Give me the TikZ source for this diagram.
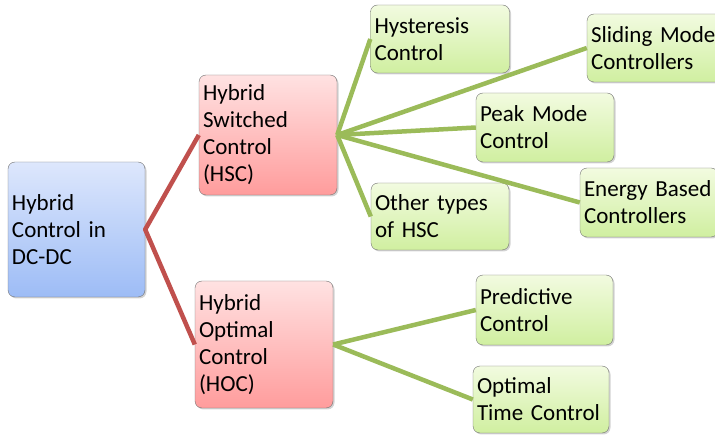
\documentclass[tikz,border=0pt]{standalone}
\usepackage{fontspec}
\setmainfont{Carlito}
\usetikzlibrary{shadows}
\definecolor{rootTop}{HTML}{DDE7FC}
\definecolor{rootBot}{HTML}{9DBCF6}
\definecolor{midTop}{HTML}{FFE2E2}
\definecolor{midBot}{HTML}{FF9C9C}
\definecolor{leafTop}{HTML}{F2FBE0}
\definecolor{leafBot}{HTML}{D0EFA0}
\definecolor{redline}{HTML}{C0504D}
\definecolor{greenline}{HTML}{9BBB59}
\newcommand{\boxfont}{\fontsize{23}{27}\selectfont\fontdimen2\font=3.5pt\relax}

\begin{document}
\begin{tikzpicture}[
x=1pt,y=-1pt,
box/.style={draw=black!55,rounded corners=7pt,align=left,inner sep=4pt,
  font=\boxfont,drop shadow={shadow xshift=1.5pt,shadow yshift=-1.5pt,opacity=0.35}},
rootbox/.style={box,top color=rootTop,bottom color=rootBot},
midbox/.style={box,top color=midTop,bottom color=midBot},
leafbox/.style={box,top color=leafTop,bottom color=leafBot},
redarr/.style={draw=redline,line width=4.5pt,line join=round},
greenarr/.style={draw=greenline,line width=4.5pt}
]
\useasboundingbox (0,0) rectangle (715,435);
\clip (0,0) rectangle (715,435);
\node[rootbox,text width=129pt,minimum height=135pt] (root) at (76.5,229.5) {Hybrid\\Control in\\DC-DC};
\node[midbox,text width=130pt,minimum height=120pt] (hsc) at (268,135) {Hybrid\\Switched\\Control\\(HSC)};
\node[midbox,text width=130pt,minimum height=127pt] (hoc) at (264,344.5) {Hybrid\\Optimal\\Control\\(HOC)};
\node[leafbox,text width=131pt,minimum height=68pt] (hyst) at (440,39) {Hysteresis\\Control};
\node[leafbox,text width=130pt,minimum height=68pt] (slide) at (656,48) {Sliding Mode\\Controllers};
\node[leafbox,text width=130pt,minimum height=69pt] (peak) at (545,127.5) {Peak Mode\\Control};
\node[leafbox,text width=130pt,minimum height=69pt] (energy) at (649,202.5) {Energy Based\\Controllers};
\node[leafbox,text width=130pt,minimum height=67pt] (other) at (440,216.5) {Other types\\of HSC};
\node[leafbox,text width=129pt,minimum height=70pt] (pred) at (544.5,310) {Predictive\\Control};
\node[leafbox,text width=128pt,minimum height=67pt] (opttime) at (541,399.5) {Optimal\\Time Control};
\draw[redarr] (hsc.west) -- (root.east) -- (hoc.west);
\draw[greenarr] (hsc.east) -- (hyst.west);
\draw[greenarr] (hsc.east) -- (slide.west);
\draw[greenarr] (hsc.east) -- (peak.west);
\draw[greenarr] (hsc.east) -- (energy.west);
\draw[greenarr] (hsc.east) -- (other.west);
\draw[greenarr] (hoc.east) -- (pred.west);
\draw[greenarr] (hoc.east) -- (opttime.west);
\end{tikzpicture}
\end{document}
